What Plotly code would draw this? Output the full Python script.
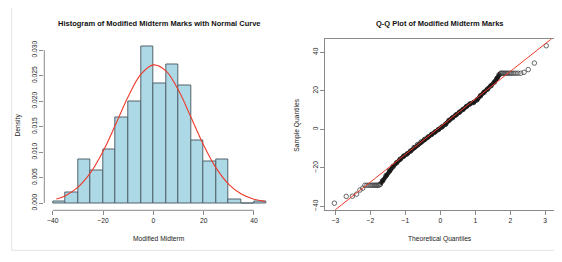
import plotly.graph_objects as go

# Page body has an 8px margin, so the figure is drawn 8px in from the window corner.
PAGE_W, PAGE_H, OFF = 562, 262, 8
W, H = PAGE_W - OFF, PAGE_H - OFF

# ---------------- Histogram data (density per 5-unit bin) ----------------
hist_bin_left = [-40, -35, -30, -25, -20, -15, -10, -5, 0, 5, 10, 15, 20, 25, 30, 35, 40]
hist_density = [0.00035, 0.00213, 0.00861, 0.00629, 0.01050, 0.01675, 0.01995, 0.03077,
                0.02353, 0.02718, 0.02308, 0.01222, 0.00815, 0.00861, 0.00075, 0.0, 0.00035]
bin_width = 5

# Normal curve, values
curve_x = [-38.6, -35, -30, -25, -20, -15, -10, -5, 0, 5, 10, 15, 20, 25, 30, 35, 40, 44.4]
curve_y = [0.00078, 0.00144, 0.00311, 0.00596, 0.01017, 0.01545, 0.02093, 0.02524, 0.02712,
           0.02595, 0.02212, 0.01679, 0.01136, 0.00684, 0.00367, 0.00176, 0.00075, 0.00032]

hist_xticks = [-40, -20, 0, 20, 40]
hist_yticks = [0.000, 0.005, 0.010, 0.015, 0.020, 0.025, 0.030]

# ---------------- Q-Q plot data ----------------
# sparse points (tails and tied plateaus)
qq_sparse_t = [-3.03, -2.69, -2.515, -2.394, -2.30, -2.22,
               -2.157, -2.100, -2.048, -2.003, -1.960, -1.921, -1.884, -1.850, -1.818, -1.788, -1.759,
               1.759, 1.788, 1.818, 1.850, 1.884, 1.921, 1.960, 2.003, 2.048, 2.100, 2.157, 2.22, 2.30,
               2.394, 2.515, 2.69, 3.03]
qq_sparse_s = [-38.4, -34.9, -34.8, -33.7, -31.6, -30.6,
               -29.1, -29.1, -29.1, -29.1, -29.1, -29.1, -29.1, -29.1, -29.1, -29.1, -29.1,
               29.1, 29.1, 29.1, 29.1, 29.1, 29.1, 29.1, 29.1, 29.1, 29.1, 29.1, 29.1, 29.1,
               29.6, 31.0, 34.4, 43.4]
# dense central band
qq_dense_t = [-1.72, -1.65, -1.55, -1.45, -1.35, -1.25, -1.15, -1.05, -0.95, -0.85, -0.75,
              -0.65, -0.55, -0.45, -0.35, -0.25, -0.15, -0.05, 0.05, 0.15, 0.25, 0.35, 0.45,
              0.55, 0.65, 0.75, 0.85, 0.95, 1.05, 1.15, 1.25, 1.35, 1.45, 1.55, 1.62, 1.68, 1.73]
qq_dense_s = [-28.6, -26.8, -24.0, -21.6, -19.3, -17.4, -15.6, -14.0, -12.8, -11.3, -9.5,
              -8.0, -6.6, -5.3, -4.0, -2.7, -1.4, -0.1, 1.2, 2.6, 4.6, 6.0, 7.5,
              8.9, 10.3, 11.9, 13.2, 13.9, 15.3, 17.4, 19.2, 20.8, 22.6, 24.6, 26.5, 28.3, 29.1]
qqline_intercept = 1.31
qqline_slope = 14.37

qq_xticks = [-3, -2, -1, 0, 1, 2, 3]
qq_yticks = [-40, -20, 0, 20, 40]

FONT = "Liberation Sans, Arial, Helvetica, sans-serif"
TXT = "#222222"
AX = "#8a8a8a"


def px_x(p):
    return (p - OFF) / W


def px_y(p):
    return 1 - (p - OFF) / H


fig = go.Figure()

# Histogram bars
fig.add_trace(go.Bar(
    x=[b + bin_width / 2 for b in hist_bin_left], y=hist_density, width=bin_width,
    marker=dict(color="#add8e6", line=dict(color="#52636b", width=1)),
    xaxis="x", yaxis="y", showlegend=False, hoverinfo="skip"))

# Normal curve
fig.add_trace(go.Scatter(
    x=curve_x, y=curve_y, mode="lines", line=dict(color="#ee3a2a", width=1.1, shape="spline"),
    xaxis="x", yaxis="y", showlegend=False, hoverinfo="skip"))

# Q-Q dense band
fig.add_trace(go.Scatter(
    x=qq_dense_t, y=qq_dense_s, mode="lines+markers",
    line=dict(color="#151515", width=4.2),
    marker=dict(symbol="circle-open", size=4.5, color="#222", line=dict(width=0.9)),
    xaxis="x2", yaxis="y2", showlegend=False, hoverinfo="skip"))

# Q-Q sparse points
fig.add_trace(go.Scatter(
    x=qq_sparse_t, y=qq_sparse_s, mode="markers",
    marker=dict(symbol="circle-open", size=4.5, color="#444", line=dict(width=0.8)),
    xaxis="x2", yaxis="y2", showlegend=False, hoverinfo="skip"))

# Q-Q reference line
ql_x = [-3.6, 3.6]
fig.add_trace(go.Scatter(
    x=ql_x, y=[qqline_intercept + qqline_slope * v for v in ql_x], mode="lines",
    line=dict(color="#ee3a2a", width=1),
    xaxis="x2", yaxis="y2", showlegend=False, hoverinfo="skip"))

tickfont = dict(family=FONT, size=6.7, color=TXT)

fig.update_layout(
    width=W, height=H, margin=dict(l=0, r=0, t=0, b=0),
    paper_bgcolor="white", plot_bgcolor="white", bargap=0,
    xaxis=dict(domain=[px_x(44.3), px_x(275)], range=[-43.4, 48.4],
               tickvals=hist_xticks, ticks="outside", ticklen=4, tickcolor=AX, tickwidth=1,
               showline=False, showgrid=False, zeroline=False, tickfont=tickfont),
    yaxis=dict(domain=[px_y(210.3), px_y(39.5)], range=[-0.00143, 0.0321],
               tickvals=hist_yticks, tickformat=".3f", tickangle=-90,
               ticks="outside", ticklen=4, tickcolor=AX, tickwidth=1,
               showline=False, showgrid=False, zeroline=False, tickfont=tickfont),
    xaxis2=dict(domain=[px_x(325.3), px_x(555)], range=[-3.29, 3.28], anchor="y2",
                tickvals=qq_xticks, ticks="outside", ticklen=4, tickcolor=AX, tickwidth=1,
                showline=True, mirror=True, linecolor=AX, linewidth=1,
                showgrid=False, zeroline=False, tickfont=tickfont),
    yaxis2=dict(domain=[px_y(209.7), px_y(39.3)], range=[-41.8, 46.75], anchor="x2",
                tickvals=qq_yticks, tickangle=-90,
                ticks="outside", ticklen=4, tickcolor=AX, tickwidth=1,
                showline=True, mirror=True, linecolor=AX, linewidth=1,
                showgrid=False, zeroline=False, tickfont=tickfont),
)

shapes = [
    # histogram axis lines spanning tick range only
    dict(type="line", xref="x", yref="y domain", x0=hist_xticks[0], x1=hist_xticks[-1], y0=0, y1=0,
         line=dict(color=AX, width=1)),
    dict(type="line", xref="x domain", yref="y", x0=0, x1=0, y0=hist_yticks[0], y1=hist_yticks[-1],
         line=dict(color=AX, width=1)),
    # outer light frame
    dict(type="line", xref="paper", yref="paper", x0=px_x(11.7), x1=px_x(11.7), y0=1, y1=px_y(250.3),
         line=dict(color="#e4e4e4", width=1)),
    dict(type="line", xref="paper", yref="paper", x0=px_x(11.7), x1=1, y0=px_y(250.3), y1=px_y(250.3),
         line=dict(color="#e4e4e4", width=1)),
]
fig.update_layout(shapes=shapes)

title_font = dict(family=FONT, size=7.5, color="#111")
lab_font = dict(family=FONT, size=6.7, color=TXT)
ann = [
    dict(text="<b>Histogram of Modified Midterm Marks with Normal Curve</b>", x=px_x(159.5), y=px_y(23.3),
         font=title_font),
    dict(text="<b>Q-Q Plot of Modified Midterm Marks</b>", x=px_x(440.2), y=px_y(23.3), font=title_font),
    dict(text="Modified Midterm", x=px_x(159.3), y=px_y(238.7), font=lab_font),
    dict(text="Theoretical Quantiles", x=px_x(440), y=px_y(238.7), font=lab_font),
    dict(text="Density", x=px_x(17.5), y=px_y(125), font=lab_font, textangle=-90),
    dict(text="Sample Quantiles", x=px_x(296.7), y=px_y(125), font=lab_font, textangle=-90),
]
for a in ann:
    a.update(xref="paper", yref="paper", showarrow=False, xanchor="center", yanchor="middle")
fig.update_layout(annotations=ann)

fig.write_html("out.html")
